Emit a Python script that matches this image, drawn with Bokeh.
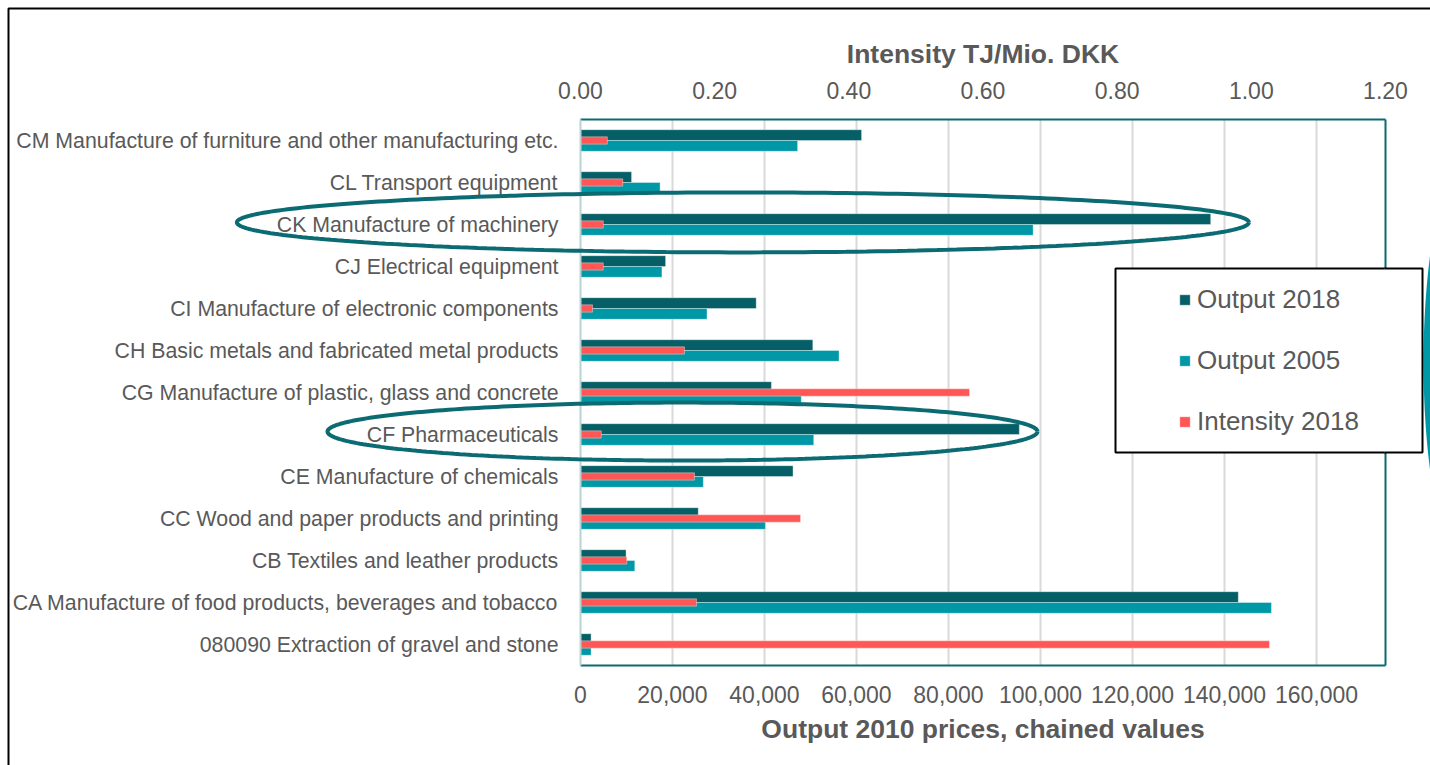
import numpy as np
from bokeh.plotting import figure
from bokeh.models import (Range1d, FactorRange, LinearAxis, CategoricalAxis, FixedTicker,
                          NumeralTickFormatter, Legend, LegendItem, BoxAnnotation,
                          ColumnDataSource)
from bokeh.transform import dodge
from bokeh.embed import file_html
from bokeh.resources import INLINE

# Industries, listed top to bottom as they appear on the chart
categories = [
    "CM Manufacture of furniture and other manufacturing etc.",
    "CL Transport equipment",
    "CK Manufacture of machinery",
    "CJ Electrical equipment",
    "CI Manufacture of electronic components",
    "CH Basic metals and fabricated metal products",
    "CG Manufacture of plastic, glass and concrete",
    "CF Pharmaceuticals",
    "CE Manufacture of chemicals",
    "CC Wood and paper products and printing",
    "CB Textiles and leather products",
    "CA Manufacture of food products, beverages and tobacco",
    "080090 Extraction of gravel and stone",
]
output_2018 = [61100, 11100, 137000, 18500, 38200, 50500, 41500, 95400, 46200, 25600, 9900, 143000, 2300]
output_2005 = [47200, 17300, 98400, 17700, 27500, 56200, 48000, 50700, 26700, 40200, 11800, 150200, 2300]
intensity_2018 = [0.040, 0.063, 0.034, 0.034, 0.018, 0.155, 0.580, 0.031, 0.170, 0.328, 0.069, 0.173, 1.027]

output_ticks = [0, 20000, 40000, 60000, 80000, 100000, 120000, 140000, 160000]
intensity_ticks = [0.0, 0.2, 0.4, 0.6, 0.8, 1.0, 1.2]

DARK = "#065f66"
TEAL = "#0098a6"
RED = "#ff5656"
RING = "#0b6b72"
TXT = "#595959"
FONT = "Liberation Sans"

# page geometry (pixels)
W, H = 1430, 765
FRAME_L, FRAME_R, FRAME_T, FRAME_B = 580, 1385, 119, 665
X_MAX = 175000
LEGEND_BOX = dict(left=1115, right=1422, top=268, bottom=452)

src = ColumnDataSource(dict(cat=categories, o18=output_2018, o05=output_2005, inten=intensity_2018))

factors = list(reversed(categories))
p = figure(width=W, height=H, output_backend="svg", toolbar_location=None,
           y_range=FactorRange(factors=factors, range_padding=0),
           x_range=Range1d(0, X_MAX), x_axis_location=None,
           min_border_left=FRAME_L, min_border_right=W - FRAME_R,
           min_border_top=FRAME_T, min_border_bottom=H - FRAME_B)
p.outline_line_color = None
p.background_fill_color = "white"
p.border_fill_color = "white"
p.extra_x_ranges = {"int": Range1d(0, 1.2)}
p.extra_y_ranges = {"edge": FactorRange(factors=[""])}

# bottom axis: output
bottom = LinearAxis(ticker=FixedTicker(ticks=output_ticks),
                    formatter=NumeralTickFormatter(format="0,0"),
                    axis_label="Output 2010 prices, chained values")
# top axis: intensity
top = LinearAxis(x_range_name="int", ticker=FixedTicker(ticks=intensity_ticks),
                 formatter=NumeralTickFormatter(format="0.00"),
                 axis_label="Intensity TJ/Mio. DKK")
for ax, s1, s2 in ((bottom, 14, 8), (top, 15, 10)):
    ax.major_tick_line_color = None
    ax.minor_tick_line_color = None
    ax.axis_line_color = RING
    ax.axis_line_width = 2
    ax.major_label_text_font = FONT
    ax.major_label_text_font_size = "23px"
    ax.major_label_text_color = TXT
    ax.major_label_standoff = s1
    ax.axis_label_text_font = FONT
    ax.axis_label_text_font_size = "26.5px"
    ax.axis_label_text_font_style = "bold"
    ax.axis_label_text_color = TXT
    ax.axis_label_standoff = s2
p.add_layout(bottom, "below")
p.add_layout(top, "above")

# right frame edge
right = CategoricalAxis(y_range_name="edge", axis_line_color=RING, axis_line_width=2,
                        major_tick_line_color=None, minor_tick_line_color=None,
                        major_label_text_font_size="1px", major_label_standoff=0)
p.add_layout(right, "right")

yax = p.yaxis[0]
yax.major_tick_line_color = None
yax.axis_line_color = "#b9d2d4"
yax.axis_line_width = 2
yax.major_label_text_font = FONT
yax.major_label_text_font_size = "21.3px"
yax.major_label_text_color = TXT
yax.major_label_standoff = 16

p.ygrid.grid_line_color = None
p.xgrid.ticker = FixedTicker(ticks=output_ticks)
p.xgrid.grid_line_color = "#d9d9d9"
p.xgrid.grid_line_width = 2

BAR_H = 0.257
r18 = p.hbar(y=dodge("cat", BAR_H / 2, range=p.y_range), right="o18", left=0, height=BAR_H,
             source=src, fill_color=DARK, line_color="white", line_alpha=0.35)
r05 = p.hbar(y=dodge("cat", -BAR_H / 2, range=p.y_range), right="o05", left=0, height=BAR_H,
             source=src, fill_color=TEAL, line_color="white", line_alpha=0.35)
rin = p.hbar(y="cat", right="inten", left=0, height=0.174, x_range_name="int",
             source=src, fill_color=RED, line_color="white", line_alpha=0.35)

# legend box (inside the plot area part)
p.add_layout(BoxAnnotation(**LEGEND_BOX,
                           left_units="canvas", right_units="canvas",
                           top_units="canvas", bottom_units="canvas",
                           fill_color="white", fill_alpha=1, line_color="black",
                           line_alpha=1, line_width=2))

legend = Legend(items=[LegendItem(label="Output 2018", renderers=[r18]),
                       LegendItem(label="Output 2005", renderers=[r05]),
                       LegendItem(label="Intensity 2018", renderers=[rin])],
                location=(598, 228), margin=0, padding=0, spacing=29,
                glyph_width=13, glyph_height=13, label_height=32, label_standoff=6,
                label_text_font=FONT, label_text_font_size="26px", label_text_color=TXT,
                border_line_color=None, background_fill_alpha=0)
p.add_layout(legend, "center")


# ---- transparent overlay for the highlight rings and the chart border ----
def to_canvas_x(v):
    return FRAME_L + (FRAME_R - FRAME_L) * np.asarray(v) / X_MAX


def to_canvas_y(c):
    # c: category coordinate, 0 at the bottom of the plot area
    return FRAME_B - (FRAME_B - FRAME_T) * np.asarray(c) / len(categories)


def ring_points(cx, cy, ax_, by_, n=300):
    t = np.linspace(0, 2 * np.pi, n)
    xs = to_canvas_x(cx + ax_ * np.cos(t))
    ys = to_canvas_y(cy + by_ * np.sin(t))
    return list(map(float, xs)), list(map(float, ys))


ov = figure(width=W, height=H, output_backend="svg", toolbar_location=None,
            x_range=Range1d(0, W), y_range=Range1d(H, 0),
            x_axis_location=None, y_axis_location=None, min_border=0)
ov.outline_line_color = None
ov.background_fill_color = None
ov.border_fill_color = None
ov.grid.visible = False
ov.styles = {"position": "absolute", "left": "0px", "top": "0px"}

# rings around machinery and pharmaceuticals (output units, category units)
for cx, cy, a, b in ((35300, 10.55, 110000, 0.714), (22170, 5.57, 77170, 0.69)):
    xs, ys = ring_points(cx, cy, a, b)
    ov.line(xs, ys, line_color=RING, line_width=4)

# teal shape at the right edge
xs, ys = ring_points(195650, 7.21, 12390, 5.48)
ov.patch(xs, ys, fill_color=TEAL, line_color=None)

# part of the legend box beyond the plot area
lb = LEGEND_BOX
ov.patch([FRAME_R - 1, lb["right"], lb["right"], FRAME_R - 1],
         [lb["top"], lb["top"], lb["bottom"], lb["bottom"]],
         fill_color="white", line_color=None)
ov.line([FRAME_R - 1, lb["right"], lb["right"], FRAME_R - 1],
        [lb["top"], lb["top"], lb["bottom"], lb["bottom"]],
        line_color="black", line_width=2)

# outer chart border
ov.line([8, 8, W + 20], [H + 20, 8, 8], line_color="black", line_width=2)

open("out.html", "w").write(file_html([p, ov], INLINE))
